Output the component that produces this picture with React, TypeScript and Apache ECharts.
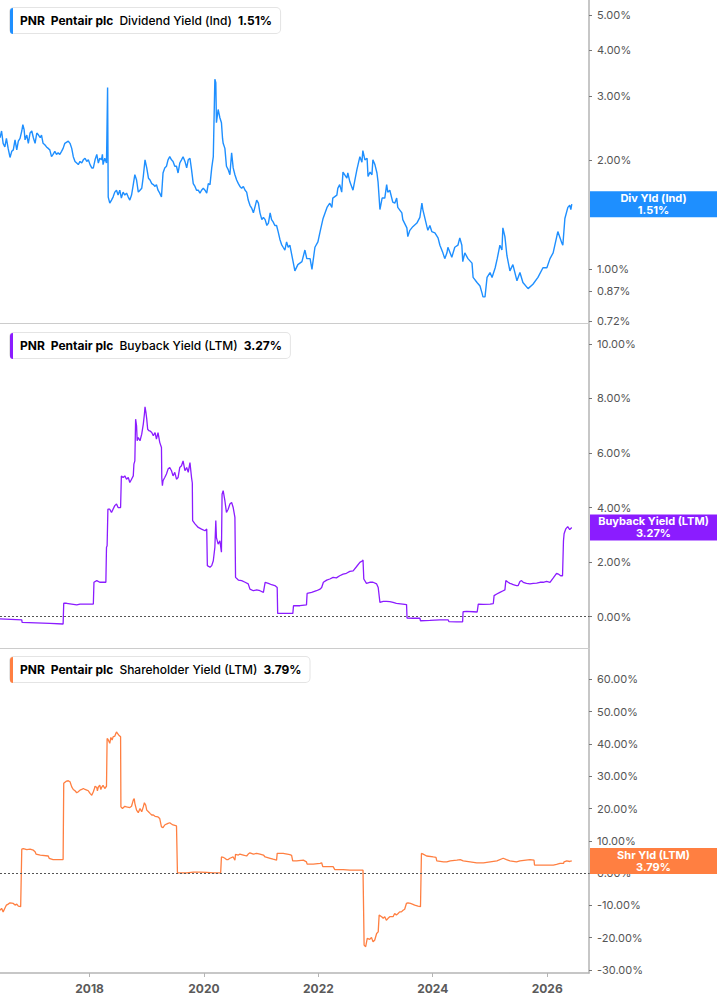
import React, { useEffect, useRef } from 'react';
import * as echarts from 'echarts';

// ---------- data ----------
const X_MIN = '2016-06-08';
const X_MAX = '2026-09-25';
const divTicks = [0.72, 0.87, 1, 2, 3, 4, 5];
const buybackTicks = [0, 2, 4, 6, 8, 10];
const shrTicks = [-30, -20, -10, 0, 10, 20, 30, 40, 50, 60];

const divDates = [
  '2016-06-08','2016-06-18','2016-06-28','2016-07-09','2016-07-19','2016-07-30','2016-08-11','2016-08-22','2016-09-01','2016-09-12',
  '2016-09-23','2016-10-03','2016-10-14','2016-10-25','2016-11-01','2016-11-09','2016-11-15','2016-11-26','2016-12-06','2016-12-17',
  '2016-12-28','2017-01-07','2017-01-18','2017-01-29','2017-02-09','2017-02-20','2017-02-28','2017-03-10','2017-03-21','2017-04-01',
  '2017-04-12','2017-04-22','2017-05-03','2017-05-13','2017-05-24','2017-06-04','2017-06-14','2017-06-25','2017-07-06','2017-07-16',
  '2017-07-27','2017-08-18','2017-08-29','2017-09-09','2017-09-19','2017-09-30','2017-10-11','2017-10-21','2017-11-01','2017-11-12',
  '2017-11-22','2017-12-03','2017-12-14','2017-12-24','2018-01-04','2018-01-15','2018-01-25','2018-02-05','2018-02-16','2018-02-26',
  '2018-03-07','2018-03-18','2018-03-24','2018-03-28','2018-04-08','2018-04-19','2018-04-26','2018-04-30','2018-05-10','2018-05-21',
  '2018-05-31','2018-06-11','2018-06-22','2018-07-02','2018-07-13','2018-07-23','2018-08-03','2018-08-14','2018-08-25','2018-09-05',
  '2018-09-15','2018-09-26','2018-10-07','2018-10-17','2018-10-28','2018-11-08','2018-11-19','2018-11-30','2018-12-10','2018-12-21',
  '2019-01-01','2019-01-12','2019-01-22','2019-02-02','2019-02-12','2019-02-23','2019-03-04','2019-03-14','2019-03-25','2019-04-05',
  '2019-04-15','2019-04-26','2019-05-07','2019-05-17','2019-05-28','2019-06-08','2019-06-18','2019-06-29','2019-07-10','2019-07-20',
  '2019-07-31','2019-08-11','2019-08-21','2019-09-02','2019-09-13','2019-09-23','2019-10-04','2019-10-14','2019-10-25','2019-11-05',
  '2019-11-15','2019-11-26','2019-12-07','2019-12-17','2019-12-28','2020-01-08','2020-01-19','2020-01-29','2020-02-09','2020-02-20',
  '2020-03-01','2020-03-11','2020-03-17','2020-03-21','2020-04-01','2020-04-12','2020-04-22','2020-04-29','2020-05-03','2020-05-14',
  '2020-05-24','2020-06-04','2020-06-15','2020-06-26','2020-07-06','2020-07-17','2020-07-28','2020-08-08','2020-08-18','2020-08-29',
  '2020-09-09','2020-09-20','2020-09-30','2020-10-10','2020-10-21','2020-11-02','2020-11-12','2020-11-23','2020-12-03','2020-12-14',
  '2020-12-24','2021-01-05','2021-01-15','2021-01-26','2021-02-06','2021-02-16','2021-02-27','2021-03-08','2021-03-18','2021-03-29',
  '2021-04-09','2021-04-19','2021-04-30','2021-05-11','2021-05-21','2021-06-01','2021-06-12','2021-06-22','2021-07-03','2021-08-04',
  '2021-08-23','2021-09-18','2021-10-07','2021-10-19','2021-11-09','2021-11-21','2021-12-10','2021-12-29','2022-01-12','2022-01-31',
  '2022-02-25','2022-03-15','2022-03-28','2022-04-03','2022-04-29','2022-05-05','2022-05-17','2022-05-30','2022-06-07','2022-07-02',
  '2022-07-08','2022-07-21','2022-08-10','2022-08-22','2022-09-04','2022-09-23','2022-10-06','2022-10-12','2022-10-25','2022-11-08',
  '2022-11-14','2022-11-27','2022-12-09','2022-12-15','2022-12-28','2023-01-10','2023-01-17','2023-01-29','2023-02-12','2023-03-01',
  '2023-03-13','2023-03-20','2023-04-02','2023-04-21','2023-05-04','2023-05-16','2023-05-23','2023-06-18','2023-06-24','2023-07-20',
  '2023-07-26','2023-08-08','2023-08-27','2023-09-22','2023-10-11','2023-10-24','2023-10-30','2023-11-25','2023-12-01','2023-12-14',
  '2023-12-26','2024-01-15','2024-02-04','2024-02-16','2024-03-06','2024-03-18','2024-04-01','2024-04-07','2024-05-02','2024-05-21',
  '2024-06-10','2024-06-22','2024-07-05','2024-07-11','2024-07-24','2024-08-13','2024-09-08','2024-09-15','2024-10-10','2024-10-29',
  '2024-11-11','2024-11-17','2024-11-30','2024-12-13','2025-01-01','2025-01-14','2025-02-03','2025-02-16','2025-03-05','2025-03-18',
  '2025-03-24','2025-04-06','2025-04-19','2025-05-08','2025-05-27','2025-06-22','2025-07-11','2025-07-30','2025-09-01','2025-10-02',
  '2025-11-03','2025-12-05','2025-12-30','2026-01-19','2026-02-08','2026-03-03','2026-03-10','2026-04-05','2026-04-11','2026-04-24',
  '2026-05-13','2026-05-25','2026-06-01','2026-06-07'
];
const divYield = [
  2.30,2.40,2.22,2.17,2.29,2.15,2.03,2.11,2.13,2.27,
  2.13,2.25,2.29,2.40,2.50,2.42,2.27,2.34,2.22,2.37,
  2.40,2.30,2.22,2.37,2.34,2.30,2.34,2.22,2.20,2.17,
  2.15,2.13,2.04,2.07,2.11,2.07,2.09,2.07,2.11,2.15,
  2.22,2.25,2.22,2.15,2.04,1.98,1.96,1.94,1.98,1.96,
  2.00,2.02,1.98,2.00,1.94,1.90,1.90,2.00,2.07,1.96,
  2.02,2.00,2.07,1.94,2.02,1.96,3.16,1.58,1.52,1.55,
  1.58,1.63,1.65,1.60,1.65,1.57,1.63,1.60,1.62,1.58,
  1.55,1.60,1.71,1.82,1.76,1.63,1.65,1.67,1.80,2.00,
  1.90,1.78,1.76,1.72,1.71,1.69,1.71,1.65,1.62,1.58,
  1.84,1.90,1.92,2.00,2.04,2.00,1.98,1.92,1.92,1.84,
  1.96,2.00,2.04,1.98,1.90,2.00,2.02,1.88,1.72,1.69,
  1.65,1.65,1.62,1.65,1.67,1.65,1.62,1.72,1.71,1.90,
  2.04,3.33,3.26,2.53,2.75,2.61,2.53,2.29,2.22,2.15,
  1.92,1.88,1.82,2.09,1.90,1.82,1.76,1.72,1.69,1.67,
  1.69,1.65,1.63,1.55,1.50,1.47,1.43,1.49,1.55,1.52,
  1.43,1.37,1.39,1.37,1.32,1.34,1.43,1.37,1.35,1.32,
  1.32,1.27,1.21,1.17,1.15,1.13,1.19,1.15,1.165,0.99,
  1.03,1.05,1.13,1.07,1.07,1.00,1.15,1.19,1.27,1.38,
  1.48,1.52,1.48,1.57,1.60,1.67,1.71,1.63,1.85,1.78,
  1.84,1.74,1.65,1.76,1.88,2.04,1.97,2.12,2.00,2.02,
  1.80,1.85,1.82,2.00,1.94,1.84,1.74,1.46,1.57,1.57,
  1.71,1.63,1.65,1.53,1.52,1.57,1.48,1.43,1.37,1.30,
  1.23,1.28,1.31,1.34,1.39,1.52,1.46,1.31,1.28,1.32,
  1.27,1.26,1.22,1.165,1.11,1.07,1.11,1.15,1.08,1.15,
  1.165,1.22,1.165,1.05,1.11,1.07,1.04,0.95,0.92,0.90,
  0.86,0.84,0.84,0.95,0.98,0.95,1.01,1.07,1.165,1.13,
  1.30,1.23,1.09,0.99,1.03,0.93,0.98,0.92,0.885,0.91,
  0.95,1.01,1.01,1.07,1.11,1.23,1.27,1.18,1.165,1.38,
  1.48,1.50,1.46,1.51
];

const bbDates = [
  '2016-06-08','2016-10-25','2016-10-27','2017-04-22','2017-07-16','2017-07-20','2017-08-07','2017-10-11','2017-11-01','2018-01-25',
  '2018-01-29','2018-02-16','2018-03-07','2018-04-15','2018-04-19','2018-04-23','2018-04-28','2018-05-10','2018-05-21','2018-06-11',
  '2018-06-22','2018-07-02','2018-07-18','2018-07-23','2018-08-03','2018-08-14','2018-08-25','2018-09-05','2018-09-15','2018-09-26',
  '2018-10-07','2018-10-11','2018-10-17','2018-10-22','2018-10-28','2018-11-01','2018-11-08','2018-11-19','2018-11-30','2018-12-10',
  '2018-12-17','2018-12-21','2018-12-27','2019-01-01','2019-01-07','2019-01-16','2019-01-22','2019-02-02','2019-02-12','2019-02-23',
  '2019-03-04','2019-03-14','2019-03-25','2019-04-05','2019-04-07','2019-04-11','2019-04-15','2019-04-26','2019-05-07','2019-05-17',
  '2019-05-28','2019-06-08','2019-06-18','2019-06-29','2019-07-10','2019-07-20','2019-07-31','2019-08-11','2019-08-21','2019-09-02',
  '2019-09-13','2019-09-23','2019-10-04','2019-10-14','2019-10-19','2019-10-21','2019-11-05','2019-11-26','2019-12-17','2020-01-08',
  '2020-01-19','2020-01-23','2020-02-09','2020-02-20','2020-03-01','2020-03-11','2020-03-17','2020-03-21','2020-04-01','2020-04-12',
  '2020-04-22','2020-04-26','2020-05-03','2020-05-14','2020-05-24','2020-06-04','2020-06-15','2020-06-26','2020-07-06','2020-07-17',
  '2020-07-21','2020-08-08','2020-08-29','2020-09-20','2020-10-10','2020-10-21','2020-11-12','2020-12-03','2020-12-24','2021-01-15',
  '2021-01-26','2021-02-16','2021-03-08','2021-03-29','2021-04-13','2021-04-16','2021-05-21','2021-07-22','2021-07-26','2021-09-05',
  '2021-10-17','2021-10-21','2021-11-19','2021-12-20','2022-01-12','2022-01-22','2022-02-02','2022-02-23','2022-03-15','2022-04-05',
  '2022-04-26','2022-05-17','2022-06-08','2022-06-29','2022-07-21','2022-08-11','2022-09-01','2022-09-23','2022-10-10','2022-10-13',
  '2022-10-18','2022-11-04','2022-11-25','2022-12-16','2023-01-08','2023-01-18','2023-01-29','2023-02-19','2023-03-11','2023-04-02',
  '2023-04-23','2023-05-14','2023-06-24','2023-07-18','2023-07-21','2023-08-30','2023-10-11','2023-10-15','2023-12-14','2024-02-16',
  '2024-04-09','2024-04-13','2024-06-01','2024-07-10','2024-07-13','2024-08-04','2024-09-16','2024-10-11','2024-10-18','2024-11-19',
  '2025-01-02','2025-01-22','2025-01-27','2025-02-13','2025-03-05','2025-03-26','2025-04-06','2025-04-12','2025-04-27','2025-05-08',
  '2025-05-19','2025-05-29','2025-06-19','2025-06-30','2025-07-11','2025-07-21','2025-08-01','2025-08-22','2025-09-13','2025-10-04',
  '2025-10-26','2025-11-16','2025-12-07','2025-12-28','2026-01-19','2026-02-09','2026-03-02','2026-03-13','2026-03-28','2026-04-09',
  '2026-04-15','2026-04-19','2026-04-30','2026-05-12','2026-05-25','2026-06-07'
];
const bbYield = [
  -0.08,-0.12,-0.21,-0.25,-0.27,0.49,0.49,0.43,0.46,0.46,
  1.26,1.32,1.26,1.26,2.54,2.60,3.94,3.94,3.82,4.07,
  4.13,4.00,4.00,5.16,5.10,5.16,5.04,5.10,4.92,5.04,
  5.16,5.59,5.71,7.24,7.00,6.45,6.57,6.45,6.69,7.06,
  7.42,7.69,7.48,7.24,6.87,6.81,6.81,6.75,6.63,6.75,
  6.51,6.75,6.39,6.20,5.10,4.80,4.98,5.10,5.23,5.41,
  5.47,5.35,5.16,5.29,5.04,5.10,5.47,5.53,5.71,5.35,
  5.47,5.29,5.65,5.10,4.90,3.52,3.40,3.27,3.21,3.15,
  3.21,1.87,1.81,1.87,2.05,2.54,3.52,2.90,2.66,2.78,
  2.36,4.49,4.62,4.25,3.82,3.94,4.13,4.19,4.00,3.64,
  1.44,1.34,1.32,1.26,1.20,1.01,0.95,0.98,0.95,0.89,
  1.26,1.22,1.17,1.14,1.07,0.12,0.12,0.12,0.40,0.40,
  0.43,0.85,0.89,0.95,1.01,1.07,1.26,1.34,1.38,1.44,
  1.42,1.50,1.56,1.59,1.66,1.68,1.83,1.99,2.05,2.08,
  1.38,1.22,1.26,1.26,1.20,1.07,0.52,0.56,0.56,0.55,
  0.52,0.49,0.46,0.44,-0.05,-0.06,-0.06,-0.15,-0.14,-0.12,
  -0.12,-0.18,-0.19,-0.19,0.18,0.19,0.18,0.17,0.46,0.45,
  0.46,0.48,0.77,0.83,0.89,0.95,0.98,1.32,1.26,1.22,
  1.20,1.17,1.14,1.14,1.29,1.32,1.26,1.22,1.20,1.22,
  1.23,1.26,1.26,1.29,1.26,1.42,1.59,1.56,1.50,1.50,
  2.78,3.04,3.22,3.30,3.19,3.27
];

const shrDates = [
  '2016-06-08','2016-06-18','2016-06-28','2016-07-09','2016-07-19','2016-07-30','2016-08-11','2016-09-01','2016-09-12','2016-09-23',
  '2016-10-03','2016-10-18','2016-10-25','2016-11-04','2016-11-26','2016-12-17','2017-01-07','2017-01-18','2017-01-24','2017-02-20',
  '2017-04-12','2017-04-18','2017-05-13','2017-07-16','2017-07-20','2017-08-07','2017-08-18','2017-08-29','2017-09-09','2017-09-19',
  '2017-09-30','2017-10-11','2017-10-21','2017-11-01','2017-11-12','2017-11-22','2017-12-03','2017-12-14','2017-12-24','2018-01-04',
  '2018-01-15','2018-01-25','2018-02-01','2018-02-05','2018-02-16','2018-02-20','2018-02-26','2018-03-07','2018-03-14','2018-03-18',
  '2018-03-28','2018-04-08','2018-04-19','2018-04-23','2018-04-29','2018-05-10','2018-05-17','2018-05-25','2018-05-31','2018-06-11',
  '2018-06-18','2018-06-22','2018-06-28','2018-07-07','2018-07-18','2018-07-20','2018-07-30','2018-08-14','2018-08-25','2018-09-15',
  '2018-09-26','2018-10-07','2018-10-13','2018-10-17','2018-10-28','2018-11-08','2018-11-19','2018-11-30','2018-12-10','2018-12-17',
  '2018-12-25','2019-01-01','2019-01-12','2019-01-22','2019-02-02','2019-02-12','2019-02-23','2019-03-14','2019-03-25','2019-04-05',
  '2019-04-15','2019-04-26','2019-05-07','2019-05-17','2019-05-28','2019-06-08','2019-06-18','2019-07-10','2019-07-16','2019-09-13',
  '2019-10-25','2019-12-07','2020-01-19','2020-03-01','2020-04-17','2020-04-22','2020-05-03','2020-05-14','2020-05-24','2020-06-04',
  '2020-06-15','2020-07-06','2020-07-17','2020-07-21','2020-08-08','2020-08-18','2020-09-09','2020-09-30','2020-10-10','2020-10-21',
  '2020-11-12','2020-12-03','2020-12-24','2021-01-15','2021-01-26','2021-02-06','2021-02-27','2021-03-18','2021-04-09','2021-04-13',
  '2021-05-21','2021-07-03','2021-07-14','2021-07-21','2021-08-15','2021-09-27','2021-10-17','2021-10-21','2021-11-29','2022-01-12',
  '2022-01-22','2022-01-29','2022-04-05','2022-04-16','2022-06-08','2022-07-21','2022-10-13','2022-10-20','2022-10-30','2022-11-09',
  '2022-11-25','2022-12-06','2022-12-16','2022-12-27','2023-01-08','2023-01-18','2023-01-24','2023-02-09','2023-02-19','2023-03-01',
  '2023-03-11','2023-03-22','2023-04-02','2023-04-23','2023-05-03','2023-05-14','2023-05-25','2023-06-04','2023-06-15','2023-06-26',
  '2023-07-06','2023-07-17','2023-07-27','2023-08-12','2023-08-24','2023-09-08','2023-09-29','2023-10-15','2023-10-21','2023-11-01',
  '2023-11-23','2024-01-05','2024-01-22','2024-01-27','2024-03-10','2024-03-31','2024-04-22','2024-06-03','2024-06-25','2024-07-14',
  '2024-08-27','2024-10-08','2024-11-20','2025-01-02','2025-02-14','2025-03-26','2025-04-16','2025-05-08','2025-06-19','2025-07-11',
  '2025-09-13','2025-10-09','2025-10-12','2025-12-07','2026-02-09','2026-03-02','2026-03-24','2026-04-15','2026-04-19','2026-05-06',
  '2026-05-25','2026-06-07'
];
const shrYield = [
  -11.5,-10.9,-12.0,-10.9,-9.9,-9.6,-9.2,-9.4,-9.9,-9.6,
  -10.2,-10.4,7.4,7.6,7.3,7.4,7.1,6.6,5.9,5.6,
  5.3,4.6,4.2,4.2,27.8,28.5,28.6,28.3,26.7,25.9,
  25.5,24.9,25.2,25.7,25.9,26.2,25.9,25.7,25.5,24.7,
  24.1,25.2,26.2,26.9,26.5,25.5,26.7,27.2,25.9,26.5,
  27.2,26.2,26.9,41.7,41.4,40.2,42.0,41.2,42.2,42.4,
  43.3,43.7,43.3,42.7,42.2,20.5,20.0,20.7,20.5,20.3,
  20.7,22.6,23.1,21.6,19.5,18.7,20.0,19.0,20.5,21.8,
  21.1,19.5,19.0,18.5,18.0,18.0,17.6,17.4,16.9,14.3,
  14.1,14.9,15.2,15.4,15.6,15.2,14.9,14.6,0.1,0.1,
  0.3,0.3,0.2,0.1,0.1,5.0,4.9,4.6,4.2,4.2,
  4.6,5.0,4.0,5.8,5.6,5.9,5.6,5.3,5.9,6.3,
  5.9,6.1,5.9,5.6,5.0,4.9,4.6,4.3,4.0,6.1,
  6.1,5.7,5.5,3.8,3.8,4.0,3.5,2.8,2.8,3.0,
  3.2,2.0,2.0,1.1,1.1,0.9,0.9,-22.3,-22.8,-20.2,
  -20.5,-19.9,-21.3,-20.7,-18.7,-18.2,-13.0,-13.5,-14.0,-13.5,
  -14.6,-14.0,-13.5,-13.5,-12.5,-13.0,-12.5,-12.0,-12.0,-11.5,
  -11.2,-9.4,-9.2,-9.4,-9.6,-9.9,-10.2,-10.4,6.1,5.9,
  5.3,5.0,4.9,3.8,3.5,3.5,3.8,4.0,4.2,3.8,
  3.5,3.2,3.2,3.5,3.8,4.6,4.2,3.8,3.5,3.8,
  4.2,4.0,2.5,2.5,2.5,2.7,3.0,3.0,3.5,3.8,
  3.6,3.79
];

// ---------- styling ----------
const BLUE = '#1e8fff';
const PURPLE = '#8b1cff';
const ORANGE = '#ff7f41';
const FONT = 'Inter, "Noto Sans", sans-serif';
const AXIS_COLOR = '#b4b4b4';
const TWO_YEARS = 730 * 24 * 3600 * 1000;

const zip = (d: string[], v: number[]) => d.map((x, i) => [x, v[i]]);
const pct = (v: number) => `${Number(v).toFixed(2)}%`;

function legend(top: number, color: string, metric: string, value: string) {
  return [
    {
      type: 'text',
      x: 10,
      y: top,
      z: 100,
      style: {
        text: `{b|PNR}{g| }{b|Pentair plc}{g| }{n|${metric}}{g| }{b|${value}}`,
        fontFamily: FONT,
        fontSize: 12,
        lineHeight: 13,
        backgroundColor: '#ffffff',
        borderColor: '#e4e4e4',
        borderWidth: 1,
        borderRadius: 4,
        padding: [6, 8, 6, 10],
        rich: {
          b: { fontFamily: FONT, fontSize: 12, fontWeight: 'bold', color: '#1d1d1d', lineHeight: 13 },
          n: { fontFamily: FONT, fontSize: 12, fontWeight: 500, color: '#2a2a2a', lineHeight: 13 },
          g: { width: 6, fontSize: 12, lineHeight: 13 },
        },
      },
    },
    {
      type: 'rect',
      x: 10,
      y: top,
      z: 101,
      shape: { x: 0, y: 0, width: 3, height: 26, r: [3, 0, 0, 3] },
      style: { fill: color },
    },
  ];
}

function endBox(value: number, color: string, name: string, valueText: string) {
  return {
    yAxis: value,
    lineStyle: { color: 'rgba(0,0,0,0)', width: 0, opacity: 1 },
    label: {
      show: true,
      opacity: 1,
      position: 'end',
      distance: 1,
      backgroundColor: color,
      padding: [1, 0, 1, 0],
      formatter: `{a|${name}}\n{a|${valueText}}`,
      rich: {
        a: {
          width: 127,
          align: 'center',
          color: '#ffffff',
          fontFamily: FONT,
          fontWeight: 'bold',
          fontSize: 11,
          lineHeight: 12,
        },
      },
    },
  };
}

const zeroLine = {
  yAxis: 0,
  lineStyle: { type: [2, 2], color: '#555', width: 1, opacity: 1 },
  label: { show: false },
};

const xBase = (grid: number) => ({
  type: 'time',
  gridIndex: grid,
  min: X_MIN,
  max: X_MAX,
  minInterval: TWO_YEARS,
  maxInterval: TWO_YEARS,
  splitNumber: 5,
  splitLine: { show: false },
  axisLine: { show: true, onZero: false, lineStyle: { color: '#cccccc', width: 1 } },
  axisTick: { show: false },
  axisLabel: { show: false },
});

const yBase = (grid: number, ticks: number[], extra: any) => ({
  gridIndex: grid,
  position: 'right',
  splitLine: { show: false },
  axisLine: { show: true, lineStyle: { color: AXIS_COLOR, width: 1.5 } },
  axisTick: { show: true, length: 3, customValues: ticks, lineStyle: { color: '#777' } },
  axisLabel: {
    customValues: ticks,
    formatter: (v: number) => pct(v),
    color: '#555',
    fontFamily: FONT,
    fontSize: 11,
    margin: 8,
  },
  ...extra,
});

const lineSeries = (i: number, data: any[], color: string, width: number, markData: any[]) => ({
  type: 'line',
  xAxisIndex: i,
  yAxisIndex: i,
  data,
  showSymbol: false,
  symbol: 'none',
  lineStyle: { color, width },
  itemStyle: { color },
  markLine: { silent: true, symbol: 'none', animation: false, z: 10, data: markData },
});

export default function App() {
  const ref = useRef<HTMLDivElement>(null);
  useEffect(() => {
    const chart = echarts.init(ref.current!, null, { renderer: 'svg' });
    const bottomX: any = {
      ...xBase(2),
      axisLine: { show: true, onZero: false, lineStyle: { color: AXIS_COLOR, width: 1.5 } },
      axisTick: { show: true, length: 4, lineStyle: { color: AXIS_COLOR } },
      axisLabel: {
        show: true,
        formatter: '{yyyy}',
        color: '#5a5a5a',
        fontFamily: FONT,
        fontWeight: 'bold',
        fontSize: 12,
        margin: 9,
      },
    };
    chart.setOption({
      animation: false,
      backgroundColor: '#ffffff',
      grid: [
        { left: 0, right: 128, top: 0, height: 323, outerBoundsMode: 'none' },
        { left: 0, right: 128, top: 324, height: 324, outerBoundsMode: 'none' },
        { left: 0, right: 128, top: 649, height: 324, outerBoundsMode: 'none' },
      ],
      xAxis: [xBase(0), xBase(1), bottomX],
      yAxis: [
        yBase(0, divTicks, { type: 'log', logBase: 10, min: 0.712, max: 5.5 }),
        yBase(1, buybackTicks, { type: 'value', min: -1.15, max: 10.73 }),
        yBase(2, shrTicks, { type: 'value', min: -30.93, max: 69.4 }),
      ],
      series: [
        lineSeries(0, zip(divDates, divYield), BLUE, 1.4, [endBox(1.51, BLUE, 'Div Yld (Ind)', '1.51%')]),
        lineSeries(1, zip(bbDates, bbYield), PURPLE, 1.3, [zeroLine, endBox(3.27, PURPLE, 'Buyback Yield (LTM)', '3.27%')]),
        lineSeries(2, zip(shrDates, shrYield), ORANGE, 1.3, [zeroLine, endBox(3.79, ORANGE, 'Shr Yld (LTM)', '3.79%')]),
      ],
      graphic: [
        ...legend(8, BLUE, 'Dividend Yield (Ind)', '1.51%'),
        ...legend(333, PURPLE, 'Buyback Yield (LTM)', '3.27%'),
        ...legend(657, ORANGE, 'Shareholder Yield (LTM)', '3.79%'),
      ],
    });
    return () => chart.dispose();
  }, []);
  return (
    <div
      ref={ref}
      style={{ position: 'fixed', left: 0, top: 0, width: 717, height: 1005, background: '#fff' }}
    />
  );
}
